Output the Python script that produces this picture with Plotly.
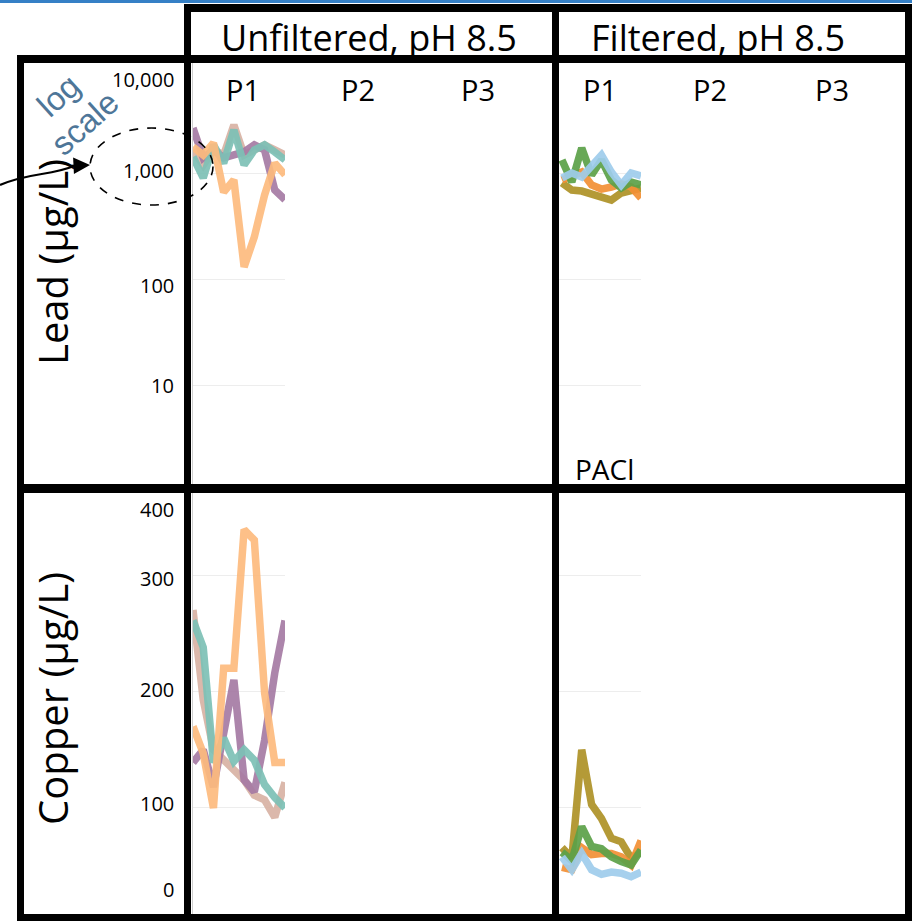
import plotly.graph_objects as go

W, H = 912, 921


def px(x):
    return x / W


def py(y):
    return 1 - y / H


# ---------------- data ----------------
# Unfiltered, pH 8.5 (P1) - sample index
unf_x = list(range(1, 11))
unf_lead_tan = [1650, 1190, 1650, 1480, 2840, 1480, 1650, 1840, 1650, 1480]
unf_lead_purple = [2660, 1390, 1650, 1390, 1480, 1580, 1840, 1650, 690, 560]
unf_lead_teal = [1420, 900, 1840, 1240, 2550, 1190, 1650, 1840, 1580, 1330]
unf_lead_orange = [1760, 1480, 1920, 660, 860, 130, 249, 620, 1240, 960]

unf_cu_tan = [270, 193, 150, 141, 133, 124, 111, 107, 92, 122]
unf_cu_purple = [139, 150, 118, 164, 210, 124, 114, 158, 216, 261]
unf_cu_teal = [261, 238, 139, 160, 140, 150, 141, 120, 109, 100]
unf_cu_orange = [170, 147, 100, 220, 220, 339, 330, 199, 139, 139]

# Filtered, pH 8.5 (P1)
filt_x = list(range(0, 9))
filt_lead_olive = [805, 691, 676, 634, 594, 556, 648, 691, 722]
filt_lead_orange = [859, 937, 1022, 771, 706, 738, 788, 738, 581]
filt_lead_green = [1326, 822, 1721, 957, 1326, 859, 722, 822, 771]
filt_lead_blue = [897, 1000, 917, 1190, 1478, 1022, 771, 1000, 937]

filt_cu_olive = [66, 57, 150, 103, 91, 74, 71, 57, 62]
filt_cu_orange = [49, 47, 66, 60, 61, 61, 58, 51, 72]
filt_cu_green = [62, 55, 84, 67, 65, 58, 54, 51, 64]
filt_cu_blue = [58, 47, 61, 47, 43, 45, 44, 41, 45]

lead_ticks = ["10,000", "1,000", "100", "10"]
copper_ticks = ["400", "300", "200", "100", "0"]
p_labels = ["P1", "P2", "P3"]

C_PURPLE = "#A67BA4"
C_LORANGE = "#FDBB7E"
C_TEAL = "#7DC1B6"
C_TAN = "#D8B3A4"
C_GREEN = "#5CA148"
C_BLUE = "#9FCDEC"
C_ORANGE = "#F39035"
C_OLIVE = "#AE9227"

FONT = "Open Sans"

fig = go.Figure()

def add(x, y, color, xa, ya):
    fig.add_trace(go.Scatter(x=x, y=y, mode="lines", xaxis=xa, yaxis=ya,
                             line=dict(color=color, width=7.5), opacity=0.92,
                             showlegend=False, hoverinfo="skip"))

add(unf_x, unf_lead_tan, C_TAN, "x", "y")
add(unf_x, unf_lead_purple, C_PURPLE, "x", "y")
add(unf_x, unf_lead_teal, C_TEAL, "x", "y")
add(unf_x, unf_lead_orange, C_LORANGE, "x", "y")

add(filt_x, filt_lead_olive, C_OLIVE, "x2", "y2")
add(filt_x, filt_lead_orange, C_ORANGE, "x2", "y2")
add(filt_x, filt_lead_green, C_GREEN, "x2", "y2")
add(filt_x, filt_lead_blue, C_BLUE, "x2", "y2")

add(unf_x, unf_cu_tan, C_TAN, "x3", "y3")
add(unf_x, unf_cu_purple, C_PURPLE, "x3", "y3")
add(unf_x, unf_cu_teal, C_TEAL, "x3", "y3")
add(unf_x, unf_cu_orange, C_LORANGE, "x3", "y3")

add(filt_x, filt_cu_olive, C_OLIVE, "x4", "y4")
add(filt_x, filt_cu_orange, C_ORANGE, "x4", "y4")
add(filt_x, filt_cu_green, C_GREEN, "x4", "y4")
add(filt_x, filt_cu_blue, C_BLUE, "x4", "y4")

unf_dom = [px(193), px(285)]
filt_dom = [px(559), px(641)]
lead_dom = [py(484), py(63)]
cu_dom = [py(914), py(493)]

xcommon = dict(visible=False)
lead_y = dict(type="log", range=[0.066, 4.038], tickvals=[10, 100, 1000],
              showgrid=True, gridcolor="#ededed", gridwidth=1,
              showticklabels=False, zeroline=False, ticks="",
              showline=True, linecolor="#cfcfcf", linewidth=1)
cu_y = dict(range=[9.0, 370.4], tickvals=[100, 200, 300],
            showgrid=True, gridcolor="#ededed", gridwidth=1,
            showticklabels=False, zeroline=False, ticks="",
            showline=True, linecolor="#cfcfcf", linewidth=1)

fig.update_layout(
    width=W, height=H, margin=dict(l=0, r=0, t=0, b=0),
    paper_bgcolor="white", plot_bgcolor="white",
    xaxis=dict(domain=unf_dom, range=[1, 10], anchor="y", **xcommon),
    xaxis2=dict(domain=filt_dom, range=[-0.3, 8.0], anchor="y2", **xcommon),
    xaxis3=dict(domain=unf_dom, range=[1, 10], anchor="y3", **xcommon),
    xaxis4=dict(domain=filt_dom, range=[-0.3, 8.0], anchor="y4", **xcommon),
    yaxis=dict(domain=lead_dom, anchor="x", **lead_y),
    yaxis2=dict(domain=lead_dom, anchor="x2", **lead_y),
    yaxis3=dict(domain=cu_dom, anchor="x3", **cu_y),
    yaxis4=dict(domain=cu_dom, anchor="x4", **cu_y),
)

shapes = []
# dashed ellipse
shapes.append(dict(type="circle", xref="paper", yref="paper",
                   x0=px(90), x1=px(213), y0=py(205), y1=py(128),
                   line=dict(color="black", width=1.6, dash="dash"), layer="above"))
# curved arrow line
shapes.append(dict(type="path", xref="paper", yref="paper",
                   path=f"M {px(0)},{py(185)} C {px(30)},{py(172)} {px(50)},{py(176)} {px(74)},{py(166)}",
                   line=dict(color="black", width=2.2), layer="above"))

def rect(x0, y0, x1, y1, color="black"):
    shapes.append(dict(type="rect", xref="paper", yref="paper",
                       x0=px(x0), x1=px(x1), y0=py(y1), y1=py(y0),
                       fillcolor=color, line=dict(width=0), layer="above"))

rect(0, 0, 912, 3, "#3580C6")          # blue top bar
rect(184, 4, 912, 12)                  # header top
rect(17, 55, 912, 63)                  # outer top
rect(17, 55, 24, 921)                  # outer left
rect(17, 914, 912, 921)                # outer bottom
rect(905, 4, 912, 921)                 # right
rect(17, 484, 912, 493)                # middle divider
rect(184, 4, 191, 921)                 # vertical divider 1
rect(552, 4, 559, 921)                 # vertical divider 2

fig.update_layout(shapes=shapes)

ann = []

def text(t, x, y, size, color="black", angle=0, xanchor="center", yanchor="middle", family=FONT):
    ann.append(dict(text=t, x=px(x), y=py(y), xref="paper", yref="paper",
                    showarrow=False, xanchor=xanchor, yanchor=yanchor,
                    textangle=angle, font=dict(family=family, size=size, color=color)))

text("Unfiltered, pH 8.5", 369, 37, 36)
text("Filtered, pH 8.5", 718, 37, 36)
for lab, xx in zip(p_labels, [243, 358, 478]):
    text(lab, xx, 89, 29)
for lab, xx in zip(p_labels, [600, 710, 832]):
    text(lab, xx, 89, 29)

for lab, yy in zip(lead_ticks, [79, 171, 285, 386]):
    text(lab, 176, yy, 20, xanchor="right")
for lab, yy in zip(copper_ticks, [509, 578, 689, 803, 889]):
    text(lab, 176, yy, 20, xanchor="right")

text("Lead (µg/L)", 52, 262, 40, angle=-90)
text("Copper (µg/L)", 52, 699, 40, angle=-90)
text("PACl", 604, 469, 28)

text("log", 58, 95, 33, color="#4E7698", angle=-42, family="Liberation Sans")
text("scale", 84, 123, 33, color="#4E7698", angle=-42, family="Liberation Sans")

# arrow head
ann.append(dict(text="", x=px(90), y=py(165), xref="paper", yref="paper",
                showarrow=True, ax=-20, ay=1, arrowhead=2, arrowsize=1.5,
                arrowwidth=2.2, arrowcolor="black"))

fig.update_layout(annotations=ann)

fig.write_html("out.html")
